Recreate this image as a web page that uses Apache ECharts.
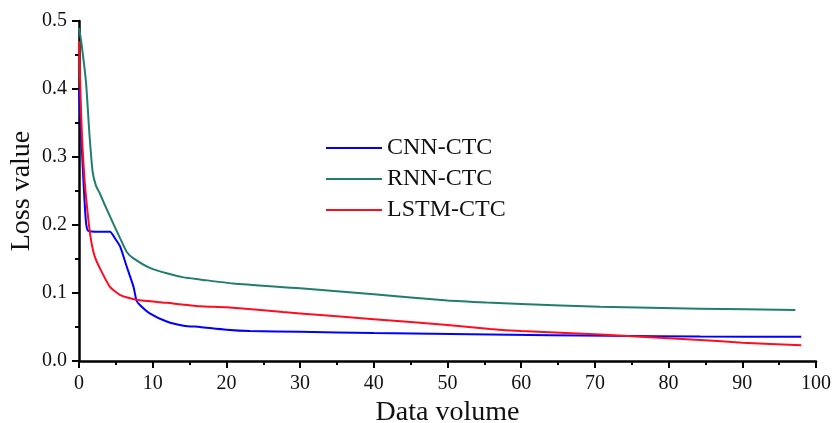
<!DOCTYPE html>
<html>
<head>
<meta charset="utf-8">
<script src="https://cdn.jsdelivr.net/npm/echarts@6/dist/echarts.min.js"></script>
<style>
  html, body { margin: 0; padding: 0; background: #fff; }
  #chart { width: 834px; height: 423px; }
</style>
</head>
<body>
<div id="chart"></div>
<script>
// [data volume, loss value]
var cnnLoss = [
  [0, 0.40], [0.5, 0.287], [0.9, 0.21], [1.2, 0.192], [2.8, 0.19], [4.2, 0.19],
  [4.9, 0.18], [5.6, 0.168], [6.5, 0.138], [7.4, 0.109], [7.8, 0.089], [8.3, 0.082],
  [9.6, 0.070], [11.9, 0.058], [14.2, 0.052], [16.4, 0.050], [20, 0.046], [23.2, 0.044],
  [30, 0.043], [40, 0.041], [55.8, 0.039], [72, 0.037], [84.3, 0.036], [98, 0.0355]
];
var rnnLoss = [
  [0, 0.49], [0.3, 0.47], [0.95, 0.41], [1.4, 0.336], [1.85, 0.278], [2.3, 0.258],
  [2.85, 0.246], [3.4, 0.232], [4.65, 0.202], [5.6, 0.18], [6.5, 0.16], [7.4, 0.151],
  [9.6, 0.137], [11.9, 0.129], [14.2, 0.123], [16.4, 0.120], [20.9, 0.114], [30, 0.107],
  [40, 0.098], [50, 0.089], [55.3, 0.086], [60, 0.084], [70.7, 0.0797], [84.3, 0.077],
  [97.2, 0.075]
];
var lstmLoss = [
  [0, 0.47], [0.3, 0.36], [0.5, 0.31], [0.8, 0.26], [1.2, 0.215], [1.6, 0.18],
  [2.1, 0.155], [2.85, 0.136], [4.2, 0.109], [5.6, 0.097], [7.8, 0.09], [11.9, 0.0855],
  [16.4, 0.0806], [20, 0.079], [27.7, 0.072], [30, 0.070], [40, 0.0615], [50, 0.053],
  [55.8, 0.047], [60, 0.044], [70.7, 0.039], [84.3, 0.031], [90, 0.027], [98, 0.023]
];
var seriesNames = ['CNN-CTC', 'RNN-CTC', 'LSTM-CTC'];
var seriesColors = ['#0000ff', '#217d6d', '#ff0d1f'];

var chart = echarts.init(document.getElementById('chart'));
var fontFamily = '"Liberation Serif", "Times New Roman", serif';

var lines = [cnnLoss, rnnLoss, lstmLoss].map(function (d, i) {
  return {
    name: seriesNames[i],
    type: 'line',
    data: d,
    symbol: 'none',
    smooth: 0.2,
    lineStyle: { width: 2, color: seriesColors[i] },
    itemStyle: { color: seriesColors[i] }
  };
});

var option = {
  animation: false,
  backgroundColor: '#fff',
  textStyle: { fontFamily: fontFamily },
  grid: { left: 79, right: 18, top: 21, bottom: 62, outerBoundsMode: 'none', containLabel: false },
  legend: {
    data: seriesNames,
    orient: 'vertical',
    left: 326,
    top: 136,
    padding: 0,
    icon: 'rect',
    itemWidth: 56,
    itemHeight: 2,
    itemGap: 7,
    textStyle: { fontFamily: fontFamily, fontSize: 24, lineHeight: 24, color: '#111' }
  },
  xAxis: {
    type: 'value',
    min: 0,
    max: 100,
    interval: 10,
    name: 'Data volume',
    nameLocation: 'middle',
    nameGap: 38,
    nameMoveOverlap: false,
    nameTextStyle: { fontFamily: fontFamily, fontSize: 28, color: '#111' },
    splitLine: { show: false },
    axisLine: { onZero: false, lineStyle: { color: '#000', width: 2.5 } },
    axisTick: { show: true, length: 7, lineStyle: { color: '#000', width: 2 } },
    minorTick: { show: true, splitNumber: 2, length: 4, lineStyle: { color: '#000', width: 2 } },
    axisLabel: { margin: 13, fontFamily: fontFamily, fontSize: 20, color: '#111' }
  },
  yAxis: {
    type: 'value',
    min: 0,
    max: 0.5,
    interval: 0.1,
    name: 'Loss value',
    nameLocation: 'middle',
    nameGap: 43,
    nameMoveOverlap: false,
    nameTextStyle: { fontFamily: fontFamily, fontSize: 28, color: '#111' },
    splitLine: { show: false },
    axisLine: { show: true, lineStyle: { color: '#000', width: 2.5 } },
    axisTick: { show: true, length: 7, lineStyle: { color: '#000', width: 2 } },
    minorTick: { show: true, splitNumber: 2, length: 4, lineStyle: { color: '#000', width: 2 } },
    axisLabel: {
      margin: 12,
      fontFamily: fontFamily,
      fontSize: 20,
      color: '#111',
      formatter: function (v) { return v.toFixed(1); }
    }
  },
  series: lines
};

chart.setOption(option);
</script>
</body>
</html>
